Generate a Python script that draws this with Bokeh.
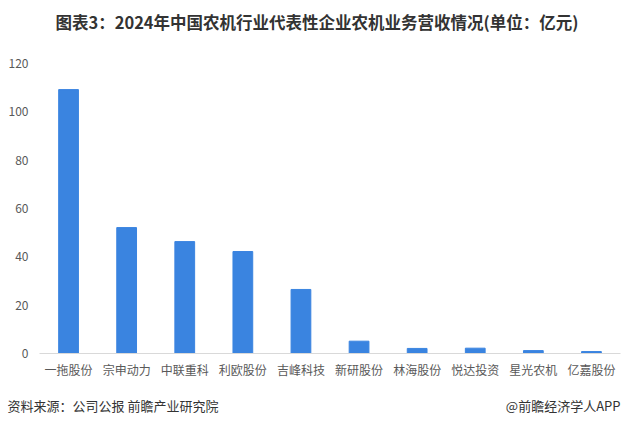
from bokeh.plotting import figure
from bokeh.models import Range1d, FactorRange, ColumnDataSource
from bokeh.layouts import column
from bokeh.core.properties import value
from bokeh.embed import file_html
from bokeh.resources import INLINE

companies = ["一拖股份", "宗申动力", "中联重科", "利欧股份", "吉峰科技",
             "新研股份", "林海股份", "悦达投资", "星光农机", "亿嘉股份"]
revenue = [109.2, 52.1, 46.3, 42.2, 26.5, 5.1, 2.1, 2.2, 1.2, 0.8]
y_ticks = [0, 20, 40, 60, 80, 100, 120]

title_text = "图表3：2024年中国农机行业代表性企业农机业务营收情况(单位：亿元)"
source_text = "资料来源：公司公报 前瞻产业研究院"
brand_text = "@前瞻经济学人APP"

FONT = "Noto Sans CJK SC"
W = 621


def text_strip(height):
    f = figure(width=W, height=height, output_backend="svg", toolbar_location=None,
               x_range=Range1d(0, W), y_range=Range1d(0, height),
               x_axis_location=None, y_axis_location=None,
               min_border=0, outline_line_color=None, frame_align=False)
    f.grid.visible = False
    return f


# header
head = text_strip(55)
head.text(x=[316.5], y=[55 - 21], text=[title_text], text_font=value(FONT),
          text_font_size="16.5px", text_font_style="bold", text_color="#333333",
          text_align="center", text_baseline="middle")

# main chart
src = ColumnDataSource(dict(x=companies, y=revenue))
p = figure(width=W, height=328, output_backend="svg", toolbar_location=None,
           x_range=FactorRange(*companies, range_padding=0),
           y_range=Range1d(0, 120), frame_align=False,
           min_border_left=39, min_border_right=1, min_border_top=8,
           min_border_bottom=30)
p.vbar(x="x", top="y", width=0.34, color="#3A84E0", source=src)

p.outline_line_color = None
p.grid.grid_line_color = None

p.yaxis.ticker = y_ticks
p.yaxis.axis_line_color = None
p.yaxis.major_tick_line_color = None
p.yaxis.minor_tick_line_color = None
p.yaxis.major_tick_out = 0
p.yaxis.major_tick_in = 0
p.yaxis.major_label_text_font = FONT
p.yaxis.major_label_text_font_size = "12px"
p.yaxis.major_label_text_color = "#595959"
p.yaxis.major_label_standoff = 11

p.xaxis.axis_line_color = "#D9D9D9"
p.xaxis.axis_line_width = 1
p.xaxis.major_tick_line_color = None
p.xaxis.minor_tick_line_color = None
p.xaxis.major_tick_out = 0
p.xaxis.major_tick_in = 0
p.xaxis.major_label_text_font = FONT
p.xaxis.major_label_text_font_size = "12px"
p.xaxis.major_label_text_color = "#595959"
p.xaxis.major_label_standoff = 7

# footer
foot = text_strip(34)
foot.text(x=[7], y=[12], text=[source_text], text_font=value(FONT),
          text_font_size="13px", text_color="#333333",
          text_align="left", text_baseline="middle")
foot.text(x=[620], y=[12], text=[brand_text], text_font=value(FONT),
          text_font_size="13px", text_color="#333333",
          text_align="right", text_baseline="middle")

layout = column(head, p, foot, spacing=0)
open("out.html", "w").write(file_html(layout, INLINE))
